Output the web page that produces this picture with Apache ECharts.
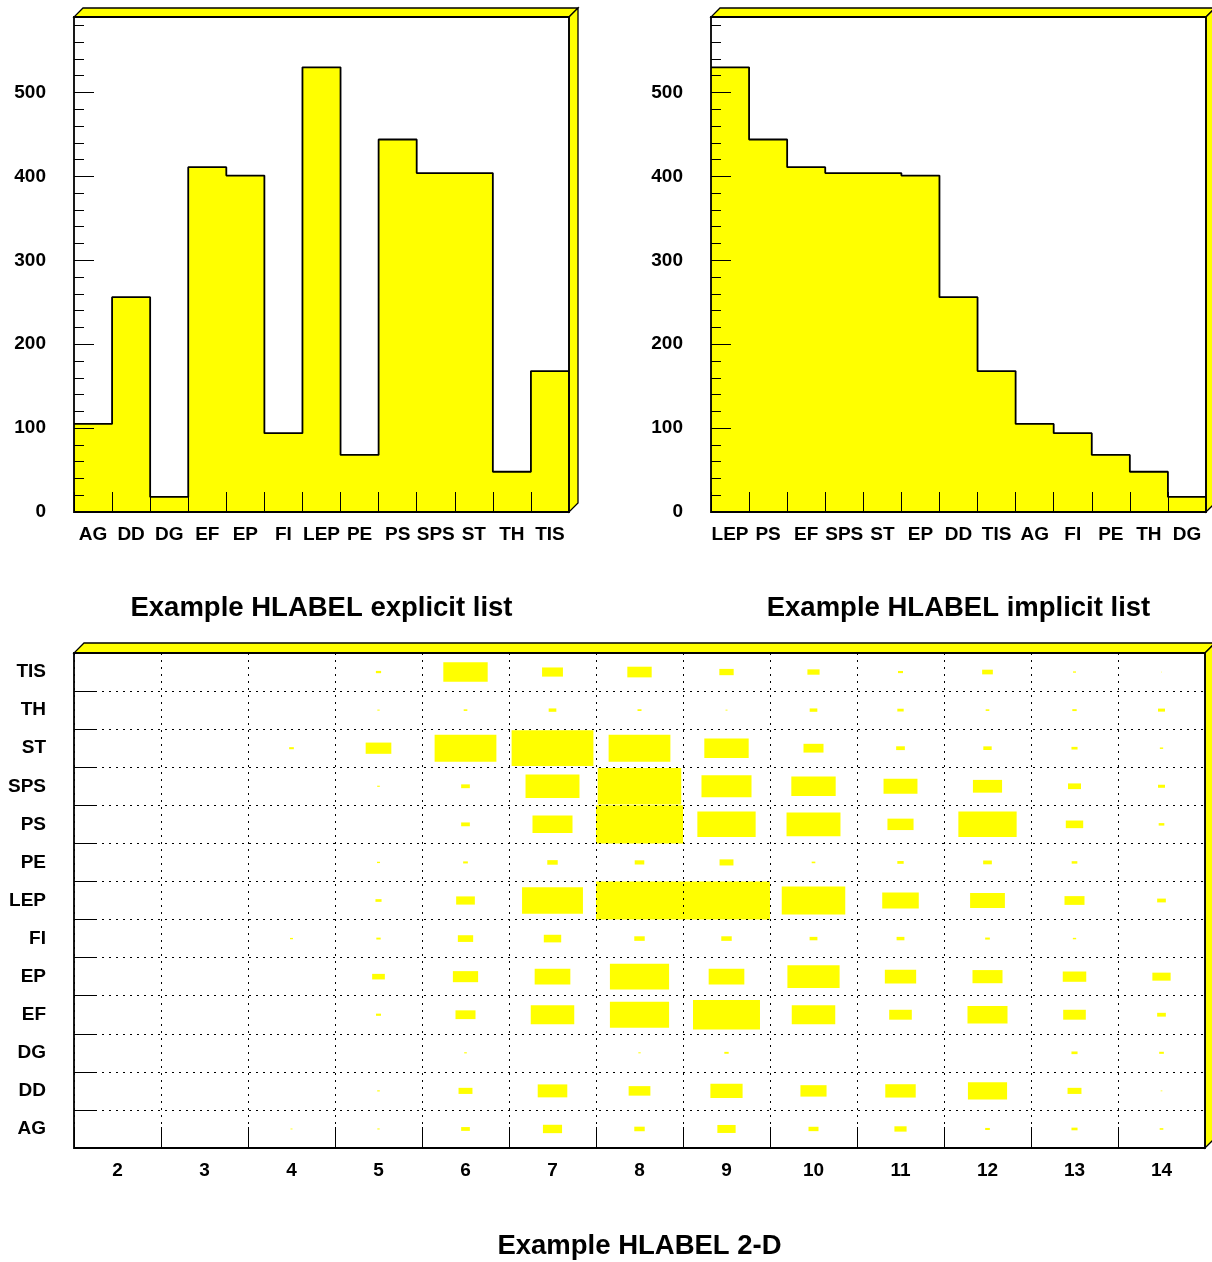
<!DOCTYPE html>
<html><head><meta charset="utf-8">
<script src="https://cdn.jsdelivr.net/npm/echarts@6/dist/echarts.min.js"></script>
<style>html,body{margin:0;padding:0;background:#fff}#c{width:1212px;height:1262px}</style>
</head><body><div id="c"></div>
<script>
// ---- data ----
const explicitLabels = ['AG','DD','DG','EF','EP','FI','LEP','PE','PS','SPS','ST','TH','TIS'];
const explicitValues = [105, 256, 18, 411, 401, 94, 530, 68, 444, 404, 404, 48, 168];
const implicitLabels = ['LEP','PS','EF','SPS','ST','EP','DD','TIS','AG','FI','PE','TH','DG'];
const implicitValues = [530, 444, 411, 404, 404, 401, 256, 168, 105, 94, 68, 48, 18];
const histYTicks = [0, 100, 200, 300, 400, 500];

const rows2D = ['AG','DD','DG','EF','EP','FI','LEP','PE','PS','SPS','ST','TH','TIS'];
const cols2D = ['2','3','4','5','6','7','8','9','10','11','12','13','14'];
const rowAG  = [0, 0, 2.3, 2.7, 10, 22, 12, 21, 11.5, 14, 5.4, 7, 4.2];
const rowDD  = [0, 0, 0, 3, 16, 34, 25, 37, 30, 35, 45, 16, 2];
const rowDG  = [0, 0, 0, 0, 3, 0, 2.7, 5, 0, 0, 0, 7, 5.4];
const rowEF  = [0, 0, 0, 5.7, 23, 50, 68, 77, 50, 26, 46, 26, 10];
const rowEP  = [0, 0, 0, 14.6, 29, 41, 68, 41, 60, 36, 34.5, 27, 21];
const rowFI  = [0, 0, 3.4, 5, 17.6, 20, 12, 12, 9, 9, 5.4, 3.8, 0];
const rowLEP = [0, 0, 0, 7, 21.5, 70, 100, 100, 73, 42, 40, 23, 10];
const rowPE  = [0, 0, 0, 3.5, 5.4, 12, 11, 16, 4.2, 7.3, 10, 6.5, 0];
const rowPS  = [0, 0, 0, 0, 10, 46, 100, 67, 62, 30, 67, 20, 6.5];
const rowSPS = [0, 0, 0, 3, 10, 62, 96, 57.5, 51, 39, 33.5, 15, 8];
const rowST  = [0, 0, 5.4, 29.5, 71, 94, 71, 51, 23, 10, 9.6, 7, 3.8];
const rowTH  = [0, 0, 0, 2.7, 4.2, 8.8, 4.6, 2.3, 8.8, 7.3, 4.2, 5, 8];
const rowTIS = [0, 0, 0, 6, 51, 24, 28, 16.5, 14, 5.7, 12.3, 3.4, 1.2];
const rowValues2D = [rowAG,rowDD,rowDG,rowEF,rowEP,rowFI,rowLEP,rowPE,rowPS,rowSPS,rowST,rowTH,rowTIS];

const titles = ['Example HLABEL explicit list', 'Example HLABEL implicit list', 'Example HLABEL 2-D'];

// ---- style / layout ----
const YEL = '#ffff00';
const FONT = '"Liberation Sans", Arial, Helvetica, sans-serif';
const G = [
  {left: 74, top: 17, width: 495, height: 495, d: 9},
  {left: 711, top: 17, width: 495, height: 495, d: 9},
  {left: 74, top: 653, width: 1131, height: 495, d: 10}
];
const lbl = {color: '#000', fontFamily: FONT, fontWeight: 'bold', fontSize: 19};
const nameStyle = {color: '#000', fontFamily: FONT, fontWeight: 'bold', fontSize: 27.5};

function stepData(vals) {
  const d = vals.map((v, i) => [i, v]);
  d.push([vals.length, vals[vals.length - 1]]);
  return d;
}
function histYAxis(gi) {
  return {
    type: 'value', gridIndex: gi, position: 'left', min: 0, max: 590, interval: 100, z: 10,
    axisLine: {show: false},
    axisTick: {show: true, inside: true, length: 20, lineStyle: {color: '#000', width: 1}},
    minorTick: {show: true, splitNumber: 5, length: 10, lineStyle: {color: '#000', width: 1}},
    splitLine: {show: false},
    axisLabel: Object.assign({margin: 28, padding: [7, 0, 0, 0],
      formatter: v => histYTicks.indexOf(v) >= 0 ? String(v) : ''}, lbl)
  };
}
function catXAxis(gi, data, name, gap) {
  return {
    type: 'category', gridIndex: gi, position: 'bottom', data: data, boundaryGap: true, z: 10,
    axisLine: {show: false},
    axisTick: {show: true, inside: true, length: 20, interval: 0, lineStyle: {color: '#000', width: 1}},
    axisLabel: Object.assign({margin: 13, interval: 0}, lbl),
    splitLine: {show: false},
    name: name, nameLocation: 'middle', nameGap: gap, nameTextStyle: nameStyle
  };
}
function frameParts(g) {
  const l = g.left, t = g.top, w = g.width, h = g.height, d = g.d;
  return [
    {type: 'polygon', z: 50, shape: {points: [[l, t], [l + w, t], [l + w + d, t - d], [l + d, t - d]]},
     style: {fill: YEL, stroke: '#000', lineWidth: 1.3}},
    {type: 'polygon', z: 50, shape: {points: [[l + w, t], [l + w + d, t - d], [l + w + d, t + h - d], [l + w, t + h]]},
     style: {fill: YEL, stroke: '#000', lineWidth: 1.3}},
    {type: 'rect', z: 60, shape: {x: l, y: t, width: w, height: h},
     style: {fill: 'none', stroke: '#000', lineWidth: 1.8}}
  ];
}

const boxData = [];
rowValues2D.forEach((row, r) => row.forEach((v, c) => { if (v > 0) boxData.push([c, r, v]); }));
const boxMax = Math.max(...rowValues2D.map(r => Math.max(...r)));

const dotted = {color: '#000', width: 1, type: [2, 5]};

const option = {
  animation: false,
  backgroundColor: '#fff',
  grid: G.map(g => ({left: g.left, top: g.top, width: g.width, height: g.height, containLabel: false})),
  xAxis: [
    {type: 'value', gridIndex: 0, position: 'bottom', min: 0, max: explicitLabels.length, show: false},
    catXAxis(0, explicitLabels, titles[0], 82),
    {type: 'value', gridIndex: 1, position: 'bottom', min: 0, max: implicitLabels.length, show: false},
    catXAxis(1, implicitLabels, titles[1], 82),
    Object.assign(catXAxis(2, cols2D, titles[2], 84), {
      axisTick: {show: true, inside: true, length: 21, interval: 0, lineStyle: {color: '#000', width: 1}},
      axisLabel: Object.assign({margin: 13, interval: 0}, lbl),
      splitLine: {show: true, interval: 0, lineStyle: dotted}
    })
  ],
  yAxis: [
    histYAxis(0),
    histYAxis(1),
    {
      type: 'category', gridIndex: 2, position: 'left', data: rows2D, boundaryGap: true, z: 10,
      axisLine: {show: false},
      axisTick: {show: true, inside: true, length: 21, interval: 0, lineStyle: {color: '#000', width: 1}},
      axisLabel: Object.assign({margin: 28, interval: 0, padding: [8, 0, 0, 0]}, lbl),
      splitLine: {show: true, interval: 0, lineStyle: dotted}
    }
  ],
  series: [
    {type: 'line', xAxisIndex: 0, yAxisIndex: 0, step: 'end', data: stepData(explicitValues),
     showSymbol: false, symbol: 'none', z: 2,
     lineStyle: {color: '#000', width: 1.8}, areaStyle: {color: YEL, opacity: 1}},
    {type: 'line', xAxisIndex: 2, yAxisIndex: 1, step: 'end', data: stepData(implicitValues),
     showSymbol: false, symbol: 'none', z: 2,
     lineStyle: {color: '#000', width: 1.8}, areaStyle: {color: YEL, opacity: 1}},
    {type: 'custom', xAxisIndex: 4, yAxisIndex: 2, data: boxData, z: 3,
     renderItem: function (params, api) {
       const c = api.coord([api.value(0), api.value(1)]);
       const s = api.size([1, 1]);
       const f = api.value(2) / boxMax;
       const w = s[0] * f, h = s[1] * f;
       return {type: 'rect', shape: {x: c[0] - w / 2, y: c[1] - h / 2, width: w, height: h}, style: {fill: YEL}};
     }}
  ],
  graphic: [].concat(frameParts(G[0]), frameParts(G[1]), frameParts(G[2]))
};

const chart = echarts.init(document.getElementById('c'), null, {renderer: 'canvas'});
chart.setOption(option);
</script>
</body></html>
